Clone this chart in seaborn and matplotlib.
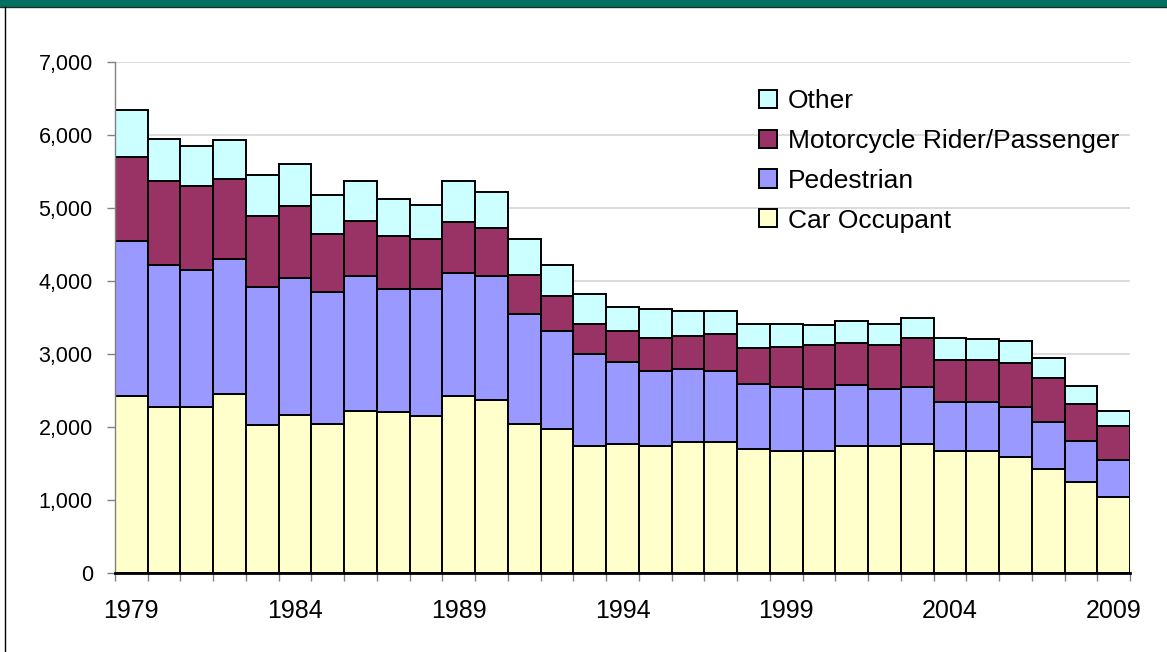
import numpy as np
import pandas as pd
import matplotlib
matplotlib.use("Agg")
import matplotlib.pyplot as plt
import seaborn as sns
from matplotlib.patches import Rectangle
from matplotlib.lines import Line2D
from matplotlib.ticker import FuncFormatter

years = list(range(1979, 2010))
car_occupant = [2425, 2270, 2270, 2452, 2023, 2170, 2046, 2219, 2201, 2147,
                2421, 2370, 2041, 1973, 1745, 1767, 1740, 1790, 1790, 1699,
                1671, 1671, 1740, 1740, 1767, 1671, 1671, 1589, 1421, 1242, 1041]
pedestrian = [2117, 1954, 1877, 1845, 1895, 1871, 1803, 1855, 1695, 1749,
              1694, 1699, 1504, 1348, 1251, 1123, 1023, 1000, 973, 896,
              873, 850, 831, 781, 777, 671, 671, 685, 647, 572, 503]
motorcycle = [1151, 1151, 1154, 1100, 978, 982, 800, 748, 725, 679,
              699, 653, 543, 471, 420, 431, 456, 457, 507, 493,
              552, 598, 576, 598, 675, 576, 576, 603, 603, 506, 470]
other = [655, 570, 548, 530, 552, 585, 525, 553, 502, 471,
         550, 503, 483, 427, 406, 323, 403, 348, 325, 328,
         320, 274, 305, 297, 280, 301, 283, 301, 280, 238, 205]

categories = ["Other", "Motorcycle Rider/Passenger", "Pedestrian", "Car Occupant"]
colors = ["#CCFFFF", "#993366", "#9999FF", "#FFFFCC"]
year_labels = years[::5]

# long table for seaborn
series = {"Other": other, "Motorcycle Rider/Passenger": motorcycle,
          "Pedestrian": pedestrian, "Car Occupant": car_occupant}
df = pd.concat([pd.DataFrame({"year": years, "type": k, "deaths": v})
                for k, v in series.items()], ignore_index=True)

sns.set_theme(style="white")
plt.rcParams["font.family"] = ["Liberation Sans", "DejaVu Sans"]
plt.rcParams["text.color"] = "black"
plt.rcParams["xtick.color"] = "black"
plt.rcParams["ytick.color"] = "black"

fig = plt.figure(figsize=(11.67, 6.52), dpi=100)
ax = fig.add_axes([115 / 1167, 79 / 652, 1015 / 1167, 511 / 652])
ax.set_axisbelow(True)
ax.yaxis.grid(True, color="#D9D9D9", linewidth=1.3)

sns.histplot(data=df, x="year", weights="deaths", hue="type", hue_order=categories,
             multiple="stack", discrete=True, shrink=1, alpha=1,
             palette=dict(zip(categories, colors)), edgecolor="black",
             linewidth=1.4, ax=ax)

ax.set_xlim(1978.5, 2009.5)
ax.set_ylim(0, 7000)
ax.set_xlabel("")
ax.set_ylabel("")
ax.set_yticks(range(0, 7001, 1000))
ax.yaxis.set_major_formatter(FuncFormatter(lambda v, p: f"{int(v):,}"))
ax.set_xticks(year_labels)
ax.set_xticks(np.arange(1978.5, 2010), minor=True)
ax.tick_params(axis="x", which="major", length=0, labelsize=18, pad=19,
               labelcolor="black")
ax.tick_params(axis="x", which="minor", bottom=True, length=6, color="#808080", width=1)
ax.tick_params(axis="y", left=True, length=6, color="#808080", width=1, labelsize=15.5,
               pad=10, labelcolor="black")

for s in ["top", "right"]:
    ax.spines[s].set_visible(False)
ax.spines["left"].set_color("#808080")
ax.spines["left"].set_linewidth(1)
ax.spines["bottom"].set_color("black")
ax.spines["bottom"].set_linewidth(2)

sns.move_legend(ax, "upper left", bbox_to_anchor=(0.6345, 0.947), frameon=False,
                title=None, fontsize=19, borderpad=0, borderaxespad=0,
                handlelength=0.68, handleheight=0.68, handletextpad=0.4,
                labelspacing=0.6, labelcolor="black")

# slide frame: green band on top, thin line down the left
fig.patches.append(Rectangle((0, 1 - 7 / 652), 1, 7 / 652, transform=fig.transFigure,
                             facecolor="#007060", edgecolor="none"))
fig.lines.append(Line2D([0, 1], [1 - 7 / 652] * 2, transform=fig.transFigure,
                        color="#103028", linewidth=1))
fig.lines.append(Line2D([5 / 1167] * 2, [0, 1 - 7 / 652], transform=fig.transFigure,
                        color="black", linewidth=1))

fig.savefig("out.png", dpi=100)
